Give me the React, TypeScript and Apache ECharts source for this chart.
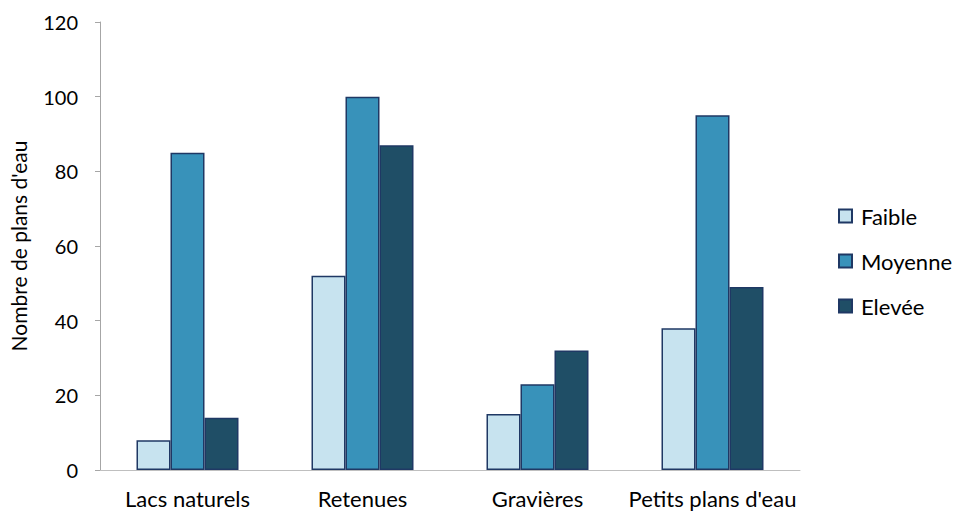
import React, { useEffect, useRef } from "react";
import * as echarts from "echarts";

const categories = ["Lacs naturels", "Retenues", "Gravières", "Petits plans d'eau"];
const seriesNames = ["Faible", "Moyenne", "Elevée"];
const faible = [8, 52, 15, 38];
const moyenne = [85, 100, 23, 95];
const elevee = [14, 87, 32, 49];
const colors = ["#C7E3EF", "#3892BA", "#1F4E66"];

export default function App() {
  const ref = useRef<HTMLDivElement>(null);
  useEffect(() => {
    const chart = echarts.init(ref.current!, null, { renderer: "svg" });
    const font = "Lato, 'Open Sans', sans-serif";
    const data = [faible, moyenne, elevee];
    chart.setOption({
      animation: false,
      textStyle: { fontFamily: font },
      grid: { left: 100, top: 22, right: 156, bottom: 42, containLabel: false },
      legend: {
        orient: "vertical",
        left: 833,
        top: 200,
        itemGap: 23,
        itemWidth: 13,
        itemHeight: 13,
        icon: "rect",
        textStyle: { fontSize: 22, lineHeight: 22, color: "#000", fontFamily: font, padding: [0, 0, 0, 4] },
        data: seriesNames,
      },
      xAxis: {
        type: "category",
        data: categories,
        axisLine: { lineStyle: { color: "#BFBFBF", width: 1 } },
        axisTick: { show: false },
        axisLabel: { fontSize: 22, color: "#000", margin: 17, fontFamily: font, interval: 0 },
      },
      yAxis: {
        type: "value",
        min: 0,
        max: 120,
        interval: 20,
        name: "Nombre de plans d'eau",
        nameLocation: "middle",
        nameGap: 71,
        nameTextStyle: { fontSize: 21, color: "#000", fontFamily: font },
        axisLine: { show: true, lineStyle: { color: "#A6A6A6" } },
        axisTick: { show: true, length: 5, lineStyle: { color: "#A6A6A6" } },
        splitLine: { show: false },
        axisLabel: { fontSize: 20, color: "#000", margin: 22, fontFamily: font },
      },
      series: seriesNames.map((n, i) => ({
        name: n,
        type: "bar",
        data: data[i],
        barWidth: 34,
        barGap: "0%",
        itemStyle: { color: colors[i], borderColor: "#1F3864", borderWidth: 1.5 },
      })),
    });
    return () => chart.dispose();
  }, []);
  return <div ref={ref} style={{ width: 956, height: 512, position: "absolute", left: 0, top: 0 }} />;
}
